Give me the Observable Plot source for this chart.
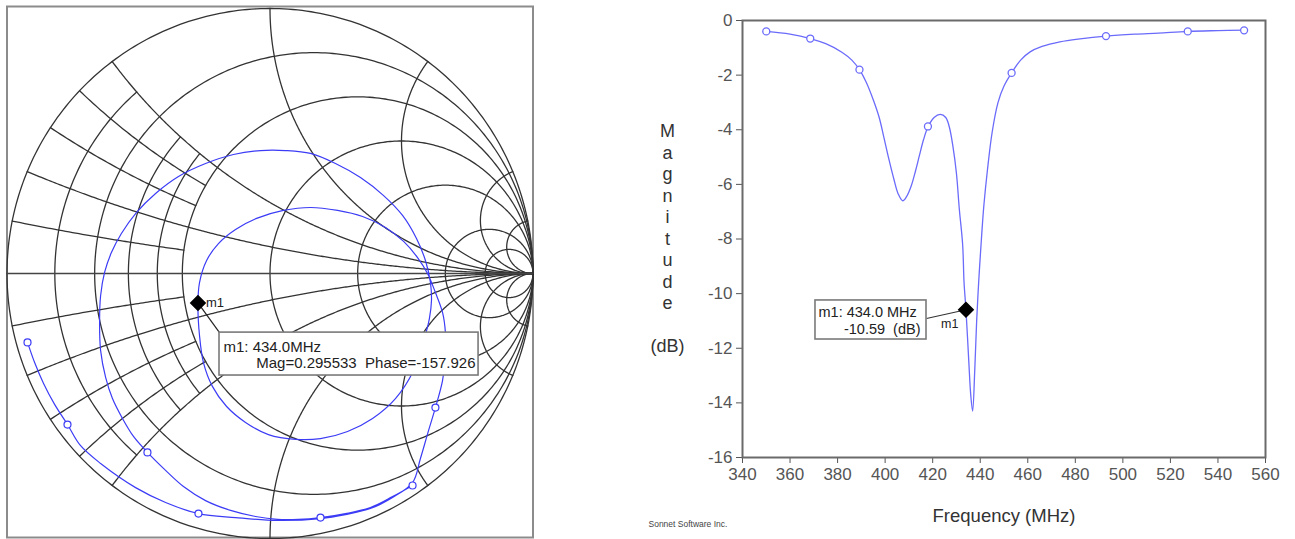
<!DOCTYPE html>
<html><head><meta charset="utf-8">
<script src="https://cdn.jsdelivr.net/npm/d3@7"></script>
<script src="https://cdn.jsdelivr.net/npm/@observablehq/plot@0.6"></script>
<style>
body{margin:0;background:#fff;}
#wrap{position:relative;width:1295px;height:539px;overflow:hidden;}
#smith{position:absolute;left:0;top:0;}
#mag{position:absolute;left:640px;top:0;}
</style></head>
<body><div id="wrap"><div id="smith"></div><div id="mag"></div></div>
<script>
// ---------------- DATA ----------------
// Magnitude of S11 (dB) vs frequency (MHz)
const freqMHz = [350,360,368.5,375,381.8,386,389.2,392,395,397.5,399.4,401.5,403.8,405.5,407.4,409,411,412.8,414.4,416.2,418,420.6,423.2,425.5,427,428.5,430,431.2,432.6,433.2,434.0,435.2,436.0,436.8,437.7,438.5,439.4,440.5,441.5,443,445,447.5,450,453.2,457,461,466,473.5,482,492.9,505,515,527.3,540,551];
const magDB   = [-0.40,-0.50,-0.66,-0.85,-1.16,-1.45,-1.80,-2.25,-2.90,-3.55,-4.25,-5.05,-5.85,-6.35,-6.60,-6.45,-6.05,-5.50,-4.95,-4.35,-3.90,-3.55,-3.44,-3.55,-3.90,-4.60,-5.60,-6.90,-8.20,-9.60,-10.59,-12.50,-13.70,-14.30,-12.80,-11.00,-9.50,-8.00,-6.80,-5.50,-4.10,-3.00,-2.40,-1.92,-1.45,-1.15,-0.95,-0.78,-0.67,-0.57,-0.50,-0.46,-0.40,-0.37,-0.35];
// data-point symbols on the magnitude plot
const symFreq = [350,368.5,389.2,418,453.2,492.9,527.3,551];
const symDB   = [-0.40,-0.66,-1.80,-3.88,-1.92,-0.57,-0.40,-0.36];
// marker m1
const m1Freq = 434.0, m1DB = -10.59, m1Mag = 0.295533, m1Phase = -157.926;
// axis ticks
const xTicks = [340,360,380,400,420,440,460,480,500,520,540,560];
const yTicks = [0,-2,-4,-6,-8,-10,-12,-14,-16];
const smithRe = [0.542,0.466,0.382,0.287,0.192,0.108,0.029,-0.055,-0.150,-0.245,-0.329,-0.397,-0.466,-0.519,-0.561,-0.599,-0.625,-0.644,-0.648,-0.644,-0.629,-0.603,-0.565,-0.508,-0.435,-0.348,-0.245,-0.139,-0.036,0.059,0.154,0.249,0.344,0.432,0.504,0.557,0.591,0.610,0.614,0.606,0.587,0.546,0.477,0.390,0.295,0.192,0.099,-0.006,-0.093,-0.165,-0.219,-0.253,-0.268,-0.274,-0.268,-0.241,-0.196,-0.131,-0.051,0.051,0.154,0.257,0.352,0.439,0.508,0.561,0.599,0.629,0.656,0.667,0.667,0.656,0.629,0.603,0.572,0.542,0.466,0.382,0.287,0.192,0.029,-0.131,-0.272,-0.397,-0.511,-0.644,-0.721,-0.770,-0.819,-0.861,-0.895,-0.922];
const smithIm = [-0.800,-0.842,-0.883,-0.906,-0.921,-0.928,-0.928,-0.917,-0.894,-0.857,-0.804,-0.743,-0.675,-0.615,-0.547,-0.472,-0.392,-0.291,-0.185,-0.083,0.004,0.079,0.151,0.230,0.302,0.366,0.415,0.449,0.464,0.464,0.453,0.415,0.362,0.294,0.219,0.132,0.049,-0.034,-0.102,-0.170,-0.245,-0.366,-0.472,-0.547,-0.596,-0.623,-0.626,-0.608,-0.562,-0.502,-0.426,-0.336,-0.234,-0.111,-0.034,0.049,0.113,0.166,0.208,0.238,0.249,0.238,0.215,0.174,0.121,0.060,0.000,-0.072,-0.147,-0.223,-0.309,-0.404,-0.506,-0.592,-0.698,-0.789,-0.845,-0.887,-0.910,-0.925,-0.932,-0.921,-0.906,-0.864,-0.808,-0.717,-0.649,-0.570,-0.494,-0.415,-0.336,-0.260];
// data-point symbols on the Smith chart
const smithSymRe = [0.542,0.192,-0.466,0.629,-0.272,-0.770,-0.922];
const smithSymIm = [-0.800,-0.921,-0.675,-0.506,-0.906,-0.570,-0.260];
// Smith chart grid values
const resistanceCircles = [0,0.2,0.5,1,2,5,10];   // full circles
const resistanceShort = [0.1,0.3,0.4];            // drawn for |x| <= 0.5
const reactanceArcs = [0.2,0.5,1,2,5,10];         // full arcs
const reactanceShort = [0.1,0.3,0.4];             // drawn for r <= 0.5
const shortLimit = 0.5;
// annotation texts
const smithLabel1 = "m1: 434.0MHz";
const smithLabel2 = "Mag=0.295533\u00a0\u00a0Phase=-157.926";
const magLabel1 = "m1: 434.0 MHz";
const magLabel2 = "-10.59\u00a0\u00a0(dB)";
const yTitle = ["M","a","g","n","i","t","u","d","e","","(dB)"];
const xTitle = "Frequency (MHz)";
const credit = "Sonnet Software Inc.";

// ---------------- BUILD ----------------
const FONT = '"Liberation Sans", Arial, Helvetica, sans-serif';
const gam = (r, x) => { const d = (r+1)*(r+1) + x*x; return {x: (r*r + x*x - 1)/d, y: 2*x/d}; };
const grid = [];
resistanceCircles.forEach(r => {
  const c = r/(1+r), rho = 1/(1+r);
  for (let i = 0; i <= 360; i++) { const a = i*Math.PI/180; grid.push({id: "r"+r, x: c + rho*Math.cos(a), y: rho*Math.sin(a)}); }
});
resistanceShort.forEach(r => {
  for (let i = 0; i <= 100; i++) { const xv = -shortLimit + 2*shortLimit*i/100; grid.push({id: "rs"+r, ...gam(r, xv)}); }
});
reactanceArcs.forEach(xv => [1,-1].forEach(s => {
  for (let i = 0; i <= 300; i++) {
    const t = i/300;
    const p = t < 1 ? gam(Math.tan(t*Math.PI/2), s*xv) : {x: 1, y: 0};
    grid.push({id: "x"+(s*xv), ...p});
  }
}));
reactanceShort.forEach(xv => [1,-1].forEach(s => {
  for (let i = 0; i <= 60; i++) { const r = shortLimit*i/60; grid.push({id: "xs"+(s*xv), ...gam(r, s*xv)}); }
}));

const trace = smithRe.map((re, i) => ({re, im: smithIm[i]}));
const traceSyms = smithSymRe.map((re, i) => ({re, im: smithSymIm[i]}));
const ph = m1Phase*Math.PI/180;
const m1G = {re: m1Mag*Math.cos(ph), im: m1Mag*Math.sin(ph)};

// annotation layout (in chart coordinates)
const sBox = {x1: -0.192, x2: 0.793, y1: -0.223, y2: -0.385};
const TRACE_BLUE = "#3c3cf6";

const smith = Plot.plot({
  width: 540, height: 539,
  marginLeft: 6.5, marginRight: 7.5, marginTop: 8, marginBottom: 1,
  x: {domain: [-1, 1], axis: null},
  y: {domain: [-1, 1], axis: null},
  style: {fontFamily: FONT, background: "white", overflow: "visible"},
  marks: [
    Plot.frame({stroke: "#8c8c8c", strokeWidth: 2, insetTop: -2, insetBottom: 1}),
    Plot.line(grid, {x: "x", y: "y", z: "id", stroke: "#333", strokeWidth: 1.3}),
    Plot.ruleY([0], {stroke: "#444", strokeWidth: 1.6}),
    Plot.line(trace, {x: "re", y: "im", curve: "catmull-rom", stroke: TRACE_BLUE, strokeWidth: 1.2}),
    Plot.dot(traceSyms, {x: "re", y: "im", r: 3.5, stroke: TRACE_BLUE, fill: "white", strokeWidth: 1.2}),
    Plot.link([m1G], {x1: "re", y1: "im", x2: () => sBox.x1, y2: () => sBox.y1, stroke: "#222", strokeWidth: 1.2}),
    Plot.rect([sBox], {x1: "x1", x2: "x2", y1: "y1", y2: "y2", fill: "white", stroke: "#7a7a7a", strokeWidth: 1.6}),
    Plot.text([smithLabel1], {x: () => sBox.x1, y: () => -0.279, text: d => d, dx: 4, textAnchor: "start", fontSize: 15, fill: "#222"}),
    Plot.text([smithLabel2], {x: () => sBox.x2, y: () => -0.340, text: d => d, dx: -3, textAnchor: "end", fontSize: 15, fill: "#222"}),
    Plot.dot([m1G], {x: "re", y: "im", symbol: "diamond2", r: 6.5, fill: "black", stroke: "black"}),
    Plot.text([m1G], {x: "re", y: "im", text: () => "m1", dx: 8, textAnchor: "start", fontSize: 13, fill: "#222"})
  ]
});
document.getElementById("smith").appendChild(smith);

// magnitude plot
const curve = freqMHz.map((f, i) => ({f, db: magDB[i]}));
const syms = symFreq.map((f, i) => ({f, db: symDB[i]}));
const m1 = {f: m1Freq, db: m1DB};
const mBox = {x1: 370.7, x2: 417.4, y1: -10.25, y2: -11.68};
const MAG_BLUE = "#6b6bfb";

const letterMarks = yTitle.map((ch, i) =>
  Plot.text([ch], {frameAnchor: "left", text: d => d, dx: -75, dy: (i - 5)*21.5, textAnchor: "middle", fontSize: 18, fill: "#333"}));

const mag = Plot.plot({
  width: 655, height: 539,
  marginLeft: 102, marginRight: 30, marginTop: 20, marginBottom: 82,
  x: {domain: [340, 560], ticks: xTicks, tickSize: 6, tickPadding: 4, label: null, tickFormat: d => String(d)},
  y: {domain: [-16, 0], ticks: yTicks, tickSize: 6, tickPadding: 4, label: null, tickFormat: d => String(d)},
  style: {fontFamily: FONT, fontSize: "17px", color: "#555", background: "white", overflow: "visible"},
  marks: [
    Plot.frame({stroke: "#6a6a6a", strokeWidth: 2}),
    Plot.line(curve, {x: "f", y: "db", curve: "catmull-rom", stroke: MAG_BLUE, strokeWidth: 1.3}),
    Plot.dot(syms, {x: "f", y: "db", r: 3.5, stroke: MAG_BLUE, fill: "white", strokeWidth: 1.3}),
    Plot.link([m1], {x1: () => mBox.x2, y1: () => -10.91, x2: "f", y2: "db", stroke: "#333", strokeWidth: 1.2}),
    Plot.rect([mBox], {x1: "x1", x2: "x2", y1: "y1", y2: "y2", fill: "white", stroke: "#7a7a7a", strokeWidth: 1.6}),
    Plot.text([magLabel1], {x: () => mBox.x1, y: () => -10.69, text: d => d, dx: 3, textAnchor: "start", fontSize: 14.5, fill: "#222"}),
    Plot.text([magLabel2], {x: () => mBox.x2, y: () => -11.31, text: d => d, dx: -6, textAnchor: "end", fontSize: 14.5, fill: "#222"}),
    Plot.dot([m1], {x: "f", y: "db", symbol: "diamond2", r: 6.5, fill: "black", stroke: "black"}),
    Plot.text([m1], {x: "f", y: "db", text: () => "m1", dx: -25, dy: 14, textAnchor: "start", fontSize: 12.5, fill: "#222"}),
    ...letterMarks,
    Plot.text([xTitle], {frameAnchor: "bottom", text: d => d, dy: 64, fontSize: 18.5, fill: "#333"}),
    Plot.text([credit], {frameAnchor: "bottom-left", text: d => d, dx: -94, dy: 69, textAnchor: "start", fontSize: 8.5, fill: "#444"})
  ]
});
document.getElementById("mag").appendChild(mag);
</script>
</body></html>
